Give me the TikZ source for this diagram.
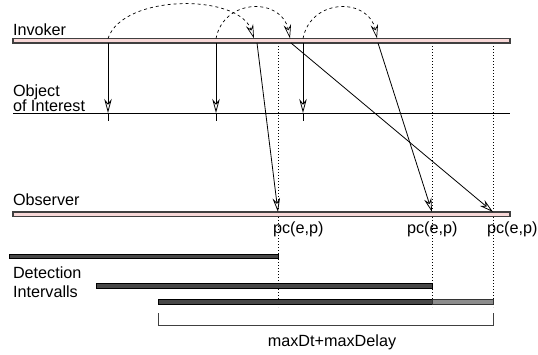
\documentclass[tikz,border=0pt]{standalone}
\usepackage{fontspec}
\setmainfont{Liberation Sans}
\usetikzlibrary{arrows.meta}
\begin{document}
\begin{tikzpicture}[x=1pt,y=-1pt,
  lbl/.style={anchor=base west, font=\fontsize{16.2}{19}\selectfont, inner sep=0pt, outer sep=0pt},
  timeline/.style={draw=black!75, line width=1.1pt, fill={rgb,255:red,248;green,216;blue,216}},
  ivl/.style={draw=black, line width=0.8pt, fill=black!72},
  ivllate/.style={draw=black!80, line width=0.8pt, fill=black!45},
  tip/.style={-{Stealth[open,length=14pt,width=7.5pt,inset=4.5pt]}},
  hop/.style={tip, line width=0.7pt, dash pattern=on 3pt off 3pt},
  msg/.style={tip, line width=0.8pt},
  guide/.style={line width=0.6pt, dash pattern=on 1pt off 2pt},
]
\useasboundingbox (0,0) rectangle (538,354);

% points in time
\coordinate (s1) at (108,38.5); \coordinate (s2) at (216,38.5); \coordinate (s3) at (303,38.5);
\coordinate (e1) at (254,38.5); \coordinate (e2) at (290,38.5); \coordinate (e3) at (377,38.5);
\coordinate (f1) at (257,43);   \coordinate (f2) at (291,43);   \coordinate (f3) at (378,43);
\coordinate (a1) at (108,43);   \coordinate (a2) at (216,43);   \coordinate (a3) at (303,43);
\coordinate (b1) at (108,113);  \coordinate (b2) at (216,113);  \coordinate (b3) at (303,113);
\coordinate (c1) at (108,121);  \coordinate (c2) at (216,121);  \coordinate (c3) at (303,121);
\coordinate (o1) at (278,212);  \coordinate (o2) at (432,212);  \coordinate (o3) at (493,212);
\coordinate (g1) at (278,43);   \coordinate (g2) at (432,43);   \coordinate (g3) at (493,43);
\coordinate (h1) at (278,307);  \coordinate (h2) at (432,307);  \coordinate (h3) at (493,307);

% dotted guides at the detection instants
\draw[guide] (g1) -- (h1);
\draw[guide] (g2) -- (h2);
\draw[guide] (g3) -- (h3);

% object of interest
\draw[line width=0.9pt] (13,113) -- (510,113);

% timelines
\draw[timeline] (13,38.5) rectangle (510,43);
\draw[timeline] (13,212) rectangle (510,216.5);

% invocations on the object of interest
\draw[msg] (a1) -- (b1); \draw[line width=0.8pt] (b1) -- (c1);
\draw[msg] (a2) -- (b2); \draw[line width=0.8pt] (b2) -- (c2);
\draw[msg] (a3) -- (b3); \draw[line width=0.8pt] (b3) -- (c3);

% hops along the invoker
\draw[hop] (s1) .. controls +(15,-45) and +(-15,-45) .. (e1);
\draw[hop] (s2) .. controls +(8,-41) and +(-8,-41) .. (e2);
\draw[hop] (s3) .. controls +(8,-41) and +(-8,-41) .. (e3);

% notifications to the observer
\draw[msg] (f1) -- (o1);
\draw[msg] (f2) -- (o3);
\draw[msg] (f3) -- (o2);

% labels
\node[lbl] (linv) at (13,35) {Invoker};
\node[lbl] (lobj1) at (13,96) {Object};
\node[lbl] (lobj2) at (13,111) {of Interest};
\node[lbl] (lobs) at (13,205) {Observer};
\node[lbl] (ldet1) at (13,278) {Detection};
\node[lbl] (ldet2) at (13,297) {Intervalls};
\node[lbl] (pc1) at (273,233) {pc(e,p)};
\node[lbl] (pc2) at (407,233) {pc(e,p)};
\node[lbl] (pc3) at (487,233) {pc(e,p)};

% detection intervals
\draw[ivl] (9,254) rectangle (278,258.5);
\draw[ivl] (96,283.5) rectangle (432,288);
\draw[ivl] (158,299.5) rectangle (432,304);
\draw[ivllate] (432,299.5) rectangle (493,304);

% maximum span
\coordinate (k1) at (158,313); \coordinate (k2) at (493,313);
\draw[line width=0.8pt, draw=black!75] (k1) -- (158,325) -- (493,325) -- (k2);
\node[lbl, anchor=base] (span) at (332,346) {maxDt+maxDelay};
\end{tikzpicture}
\end{document}
